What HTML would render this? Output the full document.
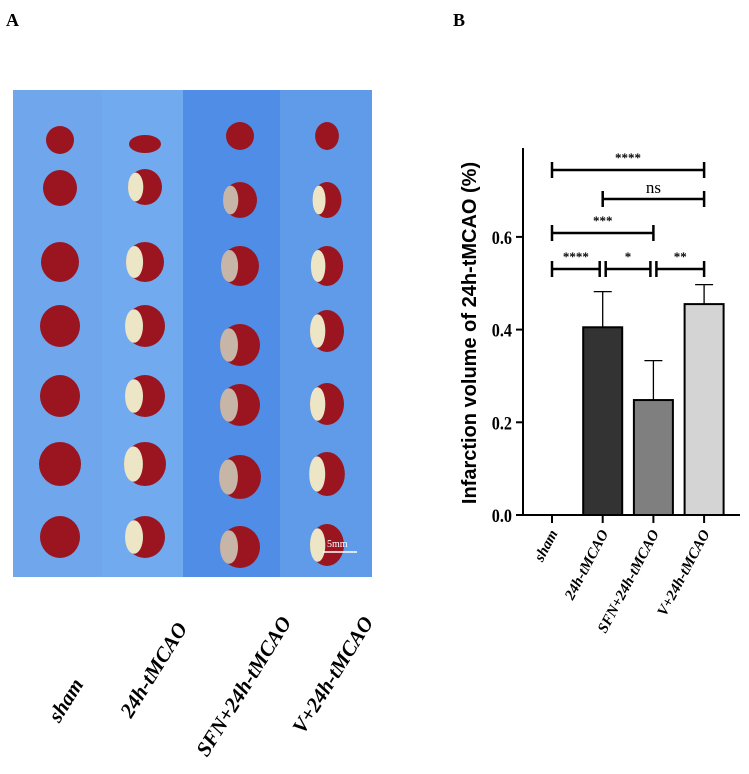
<!DOCTYPE html>
<html><head><meta charset="utf-8"><style>
body{margin:0;background:#fff;width:749px;height:769px;overflow:hidden;font-family:"Liberation Serif",serif}
</style></head><body>
<svg width="749" height="769" xmlns="http://www.w3.org/2000/svg">
<text x="6" y="26" font-size="18" font-weight="bold">A</text>
<text x="453" y="26" font-size="18" font-weight="bold">B</text>
<g>
<rect x="13" y="90" width="90" height="487" fill="#6fa6ec"/>
<rect x="102" y="90" width="82" height="487" fill="#72aaf0"/>
<rect x="183" y="90" width="98" height="487" fill="#4f8de6"/>
<rect x="280" y="90" width="92" height="487" fill="#5f9be9"/>
<g id="slices"></g>
<line x1="323" y1="552" x2="357" y2="552" stroke="#fff" stroke-width="1.5"/>
<text x="327" y="547" font-size="10" fill="#fff">5mm</text>
</g>
<g font-size="21" font-weight="bold" font-style="italic">
<text transform="translate(84,684) rotate(-58)" text-anchor="end">sham</text>
<text transform="translate(188,628) rotate(-58)" text-anchor="end">24h-tMCAO</text>
<text transform="translate(292,622) rotate(-58)" text-anchor="end">SFN+24h-tMCAO</text>
<text transform="translate(374,622) rotate(-58)" text-anchor="end">V+24h-tMCAO</text>
</g>
<g id="chart"></g>
<script>
const categories=["sham","24h-tMCAO","SFN+24h-tMCAO","V+24h-tMCAO"];
const means=[0,0.405,0.248,0.455];
const errors=[0,0.077,0.085,0.042];
const yTicks=[0,0.2,0.4,0.6];
const yTickLabels=["0.0","0.2","0.4","0.6"];
const fills=["#fff","#333333","#7f7f7f","#d4d4d4"];
const brackets=[[0,3,"****"],[1,3,"ns"],[0,2,"***"],[0,1,"****"],[1,2,"*"],[2,3,"**"]];
const NS="http://www.w3.org/2000/svg";
const g=document.getElementById('chart');
function y(v){return 515-v*463.5;}
function x(i){return 552+i*50.7;}
function mk(t,a,p){const e=document.createElementNS(NS,t);for(const k in a)e.setAttribute(k,a[k]);(p||g).appendChild(e);return e;}
let ax=mk('line',{x1:523,y1:148,x2:523,y2:516,stroke:'#000','stroke-width':2});


let bx=mk('line',{x1:522,y1:515,x2:740,y2:515,stroke:'#000','stroke-width':2});


yTicks.forEach((v,i)=>{
 mk('line',{x1:516,y1:y(v),x2:523,y2:y(v),stroke:'#000','stroke-width':2});
 const t=mk('text',{x:512,y:y(v)+7,'text-anchor':'end','font-size':19,'font-weight':'bold',transform:`translate(${512*0.15},0) scale(0.85,1)`});
 t.textContent=yTickLabels[i];
 
 
});
const yt=mk('text',{transform:'translate(476,333) rotate(-90)','text-anchor':'middle','font-size':20,'font-weight':'bold','font-family':'Liberation Sans, sans-serif'});
yt.textContent='Infarction volume of 24h-tMCAO (%)';


categories.forEach((c,i)=>{
 const cx=x(i);
 mk('line',{x1:cx,y1:515,x2:cx,y2:523,stroke:'#000','stroke-width':2});
 if(means[i]>0){
  const b=mk('rect',{x:cx-19.5,y:y(means[i]),width:39,height:515-y(means[i]),fill:fills[i],stroke:'#000','stroke-width':2});
  
  
  const top=y(means[i]+errors[i]);
  mk('line',{x1:cx,y1:y(means[i]),x2:cx,y2:top,stroke:'#000','stroke-width':1.3});
  mk('line',{x1:cx-9,y1:top,x2:cx+9,y2:top,stroke:'#000','stroke-width':1.3});
 }
 const t=mk('text',{transform:`translate(${cx+6},${533}) rotate(-62)`,'text-anchor':'end','font-size':15,'font-weight':'bold','font-style':'italic'});
 t.textContent=c;
 
 
});
const levels=[170,199,233,269,269,269];
brackets.forEach((br,k)=>{
 const ly=levels[k];
 const x1=x(br[0])+(k>=4?3:0), x2=x(br[1])-(k>=3&&k<5?3:0);
 const grp=mk('g',{});
 
 
 mk('line',{x1:x1,y1:ly,x2:x2,y2:ly,stroke:'#000','stroke-width':2.5},grp);
 mk('line',{x1:x1,y1:ly-8,x2:x1,y2:ly+8,stroke:'#000','stroke-width':2.5},grp);
 mk('line',{x1:x2,y1:ly-8,x2:x2,y2:ly+8,stroke:'#000','stroke-width':2.5},grp);
 const t=mk('text',{x:(x1+x2)/2,y:ly-(br[2]=='ns'?6:8),'text-anchor':'middle','font-size':br[2]=='ns'?17:13,'font-weight':br[2]=='ns'?'normal':'bold'},grp);
 t.textContent=br[2];
});
const sg=document.getElementById('slices');
const cols=[[60,[140,188,262,326,396,464,537]],[145,[144,187,262,326,396,464,537]],[240,[136,200,266,345,405,477,547]],[327,[136,200,266,331,404,474,545]]];
const sizes=[[14,14],[17,18],[19,20],[20,21],[20,21],[21,22],[20,21]];
cols.forEach((c,ci)=>{c[1].forEach((cy,ri)=>{
 const s=sizes[ri];let rx=s[0],ry=s[1];
 if(ci==1&&ri==0){ry=9;rx=16;}
 if(ci==3){rx*=0.85;}
 mk('ellipse',{cx:c[0],cy:cy,rx:rx,ry:ry,fill:'#9a1520'},sg);
 if(ci>0&&ri>0) mk('ellipse',{cx:c[0]-rx*0.55,cy:cy,rx:rx*0.45,ry:ry*0.8,fill:ci==2?'#c7b6a8':'#ece6c6'},sg);
});});
</script>
</svg>
</body></html>
